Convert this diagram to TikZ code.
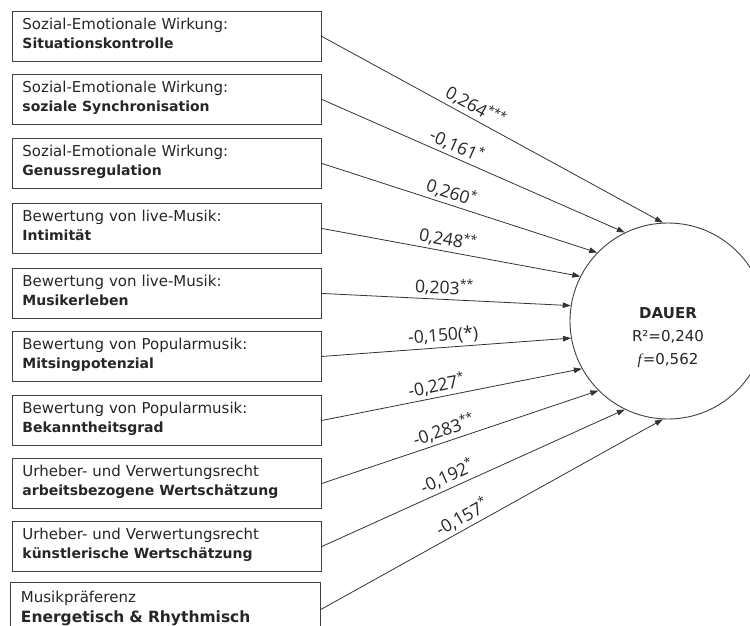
\documentclass[tikz,border=0pt]{standalone}
\usepackage{fontspec}
\setmainfont{DejaVu Sans}
\newfontfamily\lblfont{Open Sans}
\newfontfamily\serifit{Liberation Serif}
\usetikzlibrary{arrows.meta}
\newcommand\mystrut{\rule[-6pt]{0pt}{17pt}}
\newcommand\bxt[2]{\mystrut #1\\\mystrut{\bfseries\fontsize{14}{19}\selectfont #2}}
\begin{document}
\begin{tikzpicture}[x=1pt,y=1pt,
  box/.style={draw=black!75, line width=0.9pt, rectangle, anchor=north west,
    minimum width=309pt, minimum height=50pt, inner xsep=10pt, inner ysep=0pt,
    text width=289pt, align=left, font=\fontsize{15}{19}\selectfont, text=black!85},
  conn/.style={draw=black!80, line width=0.8pt, -{Triangle[length=8pt,width=5.5pt]}},
  lbl/.style={sloped, above, inner sep=3pt, font=\lblfont\fontsize{17.5}{19}\selectfont, text=black!85}]
\useasboundingbox (0,0) rectangle (750,-625);
\node[box] (b1) at (12,-11) {\bxt{Sozial-Emotionale Wirkung:}{Situationskontrolle}};
\node[box] (b2) at (12,-74) {\bxt{Sozial-Emotionale Wirkung:}{soziale Synchronisation}};
\node[box] (b3) at (12,-138) {\bxt{Sozial-Emotionale Wirkung:}{Genussregulation}};
\node[box] (b4) at (12,-203) {\bxt{Bewertung von live-Musik:}{Intimität}};
\node[box] (b5) at (12,-268) {\bxt{Bewertung von live-Musik:}{Musikerleben}};
\node[box] (b6) at (12,-331) {\bxt{Bewertung von Popularmusik:}{Mitsingpotenzial}};
\node[box] (b7) at (12,-395) {\bxt{Bewertung von Popularmusik:}{Bekanntheitsgrad}};
\node[box] (b8) at (12,-458) {\bxt{Urheber- und Verwertungsrecht}{arbeitsbezogene Wertschätzung}};
\node[box] (b9) at (12,-521) {\bxt{Urheber- und Verwertungsrecht}{künstlerische Wertschätzung}};
\node[box, minimum width=310pt, minimum height=54pt, font=\fontsize{15}{20}\selectfont] (b10) at (10,-582)
  {\mystrut Musikpräferenz\\\mystrut{\bfseries\fontsize{15.5}{20}\selectfont Energetisch \& Rhythmisch}};
\node[circle, draw=black!75, line width=0.9pt, minimum size=196pt, inner sep=0pt] (dauer) at (668,-321) {};
\node[align=center, font=\fontsize{15}{23}\selectfont, text=black!85] (dauertxt) at (668,-338)
  {\textbf{DAUER}\\R²=0,240\\{\serifit\itshape f}\kern1pt=0,562};
\draw[conn] (b1.east) -- node[lbl,pos=0.434]{0,264\textsuperscript{***}} (dauer.93);
\draw[conn] (b2.east) -- node[lbl,pos=0.43]{-0,161\textsuperscript{*}} (dauer.116);
\draw[conn] (b3.east) -- node[lbl,pos=0.458]{0,260\textsuperscript{*}} (dauer.136);
\draw[conn] (b4.east) -- node[lbl,pos=0.48]{0,248\textsuperscript{**}} (dauer.153);
\draw[conn] (b5.east) -- node[lbl,pos=0.49]{0,203\textsuperscript{**}} (dauer.171);
\draw[conn] (b6.east) -- node[lbl,pos=0.49]{-0,150(*)} (dauer.190);
\draw[conn] (b7.east) -- node[lbl,pos=0.45]{-0,227\textsuperscript{*}} (dauer.209);
\draw[conn] (b8.east) -- node[lbl,pos=0.455]{-0,283\textsuperscript{**}} (dauer.225);
\draw[conn] (b9.east) -- node[lbl,pos=0.43]{-0,192\textsuperscript{*}} (dauer.244);
\draw[conn] (b10.east) -- node[lbl,pos=0.43]{-0,157\textsuperscript{*}} (dauer.267);
\end{tikzpicture}
\end{document}
